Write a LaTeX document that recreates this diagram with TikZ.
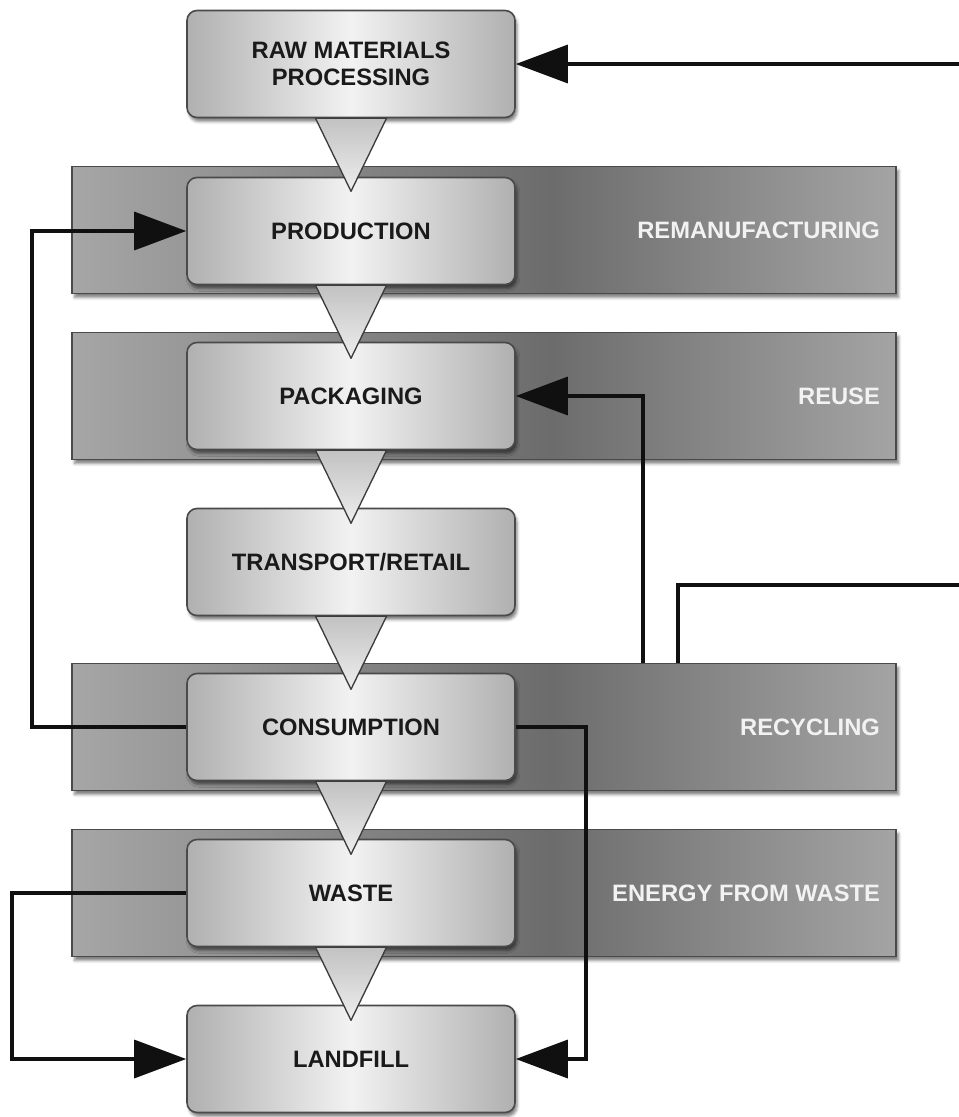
\documentclass[tikz,border=0pt]{standalone}
\usepackage{fontspec}
\setmainfont{Liberation Sans}
\usepackage{tikz}
\usetikzlibrary{arrows.meta, shadows.blur}

\definecolor{boxedge}{HTML}{B0B0B0}
\definecolor{boxmid}{HTML}{F2F2F2}
\definecolor{boxline}{HTML}{4A4A4A}
\definecolor{boxtext}{HTML}{1A1A1A}
\definecolor{bandleft}{HTML}{A6A6A6}
\definecolor{banddark}{HTML}{6C6C6C}
\definecolor{bandright}{HTML}{A4A4A4}
\definecolor{bandline}{HTML}{4A4A4A}
\definecolor{bandtext}{HTML}{F2F2F2}
\definecolor{funneltop}{HTML}{C2C2C2}
\definecolor{funnelbot}{HTML}{EEEEEE}
\definecolor{funnelline}{HTML}{3C3C3C}
\definecolor{flowline}{HTML}{101010}

\pgfdeclarehorizontalshading{bandshade}{100bp}{color(0bp)=(bandleft); color(25bp)=(bandleft); color(54bp)=(banddark); color(75bp)=(bandright); color(100bp)=(bandright)}

\begin{document}
\begin{tikzpicture}[x=0.75pt, y=-0.75pt,
		stage/.style={draw=boxline, line width=1.2pt, rounded corners=7.5pt, left color=boxedge, right color=boxedge, middle color=boxmid, minimum width=246pt, minimum height=80.25pt, align=center, text=boxtext, font=\fontsize{17.8}{20.3}\selectfont\bfseries, blur shadow={shadow xshift=1.5pt, shadow yshift=-3pt, shadow opacity=50}},
		band/.style={draw=bandline, line width=0.9pt, shade, shading=bandshade, minimum width=618pt, minimum height=95.25pt, blur shadow={shadow xshift=2pt, shadow yshift=-3pt, shadow opacity=50}},
		bandtext/.style={anchor=east, text=bandtext, font=\fontsize{17.8}{20.3}\selectfont\bfseries},
		funnel/.style={draw=funnelline, line width=1pt, top color=funneltop, bottom color=funnelbot, line join=round},
		flowhead/.style={line width=2.5pt, draw=flowline, -{Triangle[length=39pt, width=28.5pt]}}]
		\useasboundingbox (0,0) rectangle (959,1117);

		% Grey bands behind the stages
		\node[band] (reman) at (484,230) {};
		\node[band] (reuse) at (484,396) {};
		\node[band] (recyc) at (484,727) {};
		\node[band] (energy) at (484,893) {};
		\node[bandtext] (remanlbl) at ([xshift=-9pt]reman.east) {REMANUFACTURING};
		\node[bandtext] (reuselbl) at ([xshift=-9pt]reuse.east) {REUSE};
		\node[bandtext] (recyclbl) at ([xshift=-9pt]recyc.east) {RECYCLING};
		\node[bandtext] (energylbl) at ([xshift=-9pt]energy.east) {ENERGY FROM WASTE};

		% Stages down the middle
		\node[stage] (raw) at (351,64) {RAW MATERIALS\\PROCESSING};
		\node[stage] (prod) at (351,231) {PRODUCTION};
		\node[stage] (pack) at (351,396) {PACKAGING};
		\node[stage] (trans) at (351,562) {TRANSPORT/RETAIL};
		\node[stage] (cons) at (351,727) {CONSUMPTION};
		\node[stage] (waste) at (351,893) {WASTE};
		\node[stage] (landfill) at (351,1059) {LANDFILL};

		% Funnels from one stage to the next
		\foreach \a in {raw,prod,pack,trans,cons,waste}
			\draw[funnel] ([xshift=-26.625pt]\a.south) -- ++(71,0) -- ++(-35.5,73) -- cycle;

		% Return loops
		\coordinate (leftA) at (32,0);
		\coordinate (leftB) at (12,0);
		\coordinate (rightA) at (586,0);
		\coordinate (farA) at (966,585);
		\draw[flowhead] ([xshift=145.5pt]recyc.north) |- (farA) |- (raw.east);
		\draw[flowhead] ([xshift=119.25pt]recyc.north) |- (pack.east);
		\draw[flowhead] (cons.west) -- (cons.west -| leftA) |- (prod.west);
		\draw[flowhead] (cons.east) -- (cons.east -| rightA) |- (landfill.east);
		\draw[flowhead] (waste.west) -- (waste.west -| leftB) |- (landfill.west);
	\end{tikzpicture}
\end{document}
